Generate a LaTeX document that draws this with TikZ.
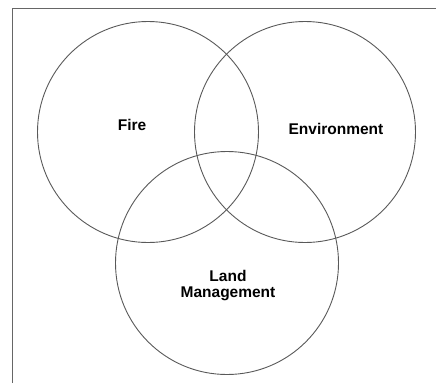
\documentclass[tikz,border=0pt]{standalone}
\usepackage{fontspec}
\setmainfont{Liberation Sans}
\begin{document}
\begin{tikzpicture}[
    x=1pt,y=-1pt,
    set/.style={circle,draw=black!65,line width=0.9pt,minimum size=221pt,inner sep=0pt},
    label/.style={font=\bfseries\fontsize{15.5}{17}\selectfont,align=center}
]
    \useasboundingbox (0,0) rectangle (436,383);
    % Frame
    \draw[black!60,line width=0.9pt] (12,383) -- (12,8) -- (436,8);

    % Define sets
    \node[set] (fire) at (148,132) {};
    \node[set] (env) at (305,132) {};
    \node[set,minimum size=223pt] (land) at (227,263) {};

    % Labels
    \node[label] (firetxt) at (132,125) {Fire};
    \node[label] (envtxt) at (336,129) {Environment};
    \node[label] (landtxt) at (228,286) {Land\\[-1pt]Management};
\end{tikzpicture}
\end{document}
